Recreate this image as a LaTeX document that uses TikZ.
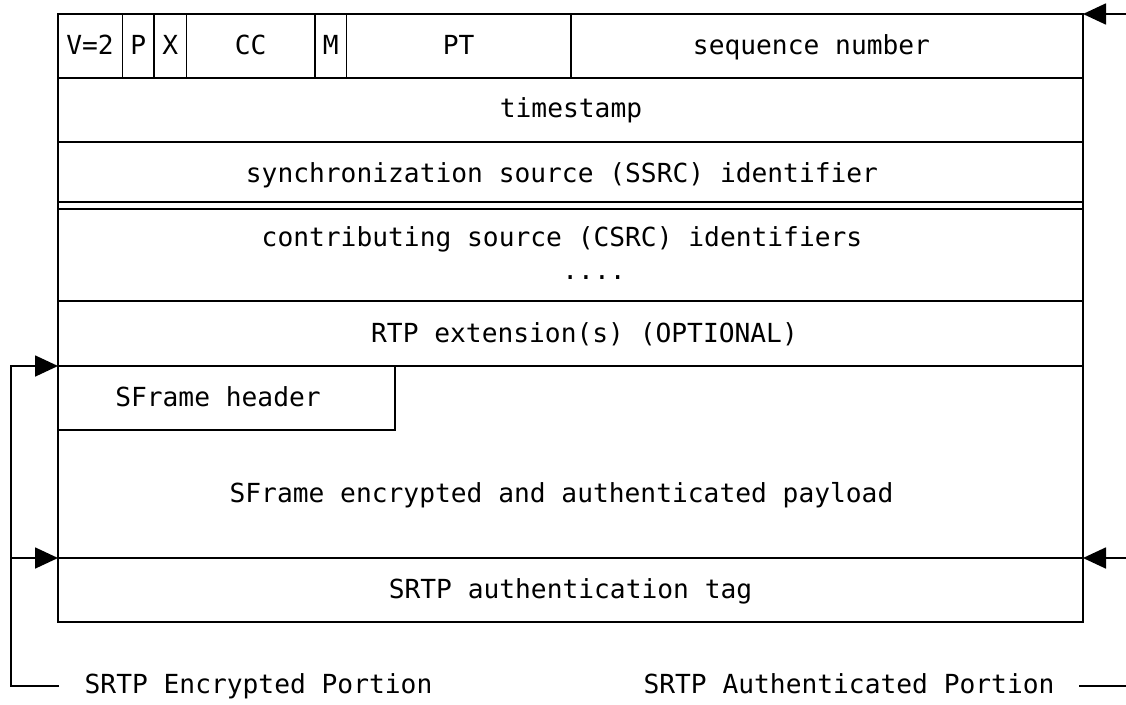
\documentclass[tikz,border=0pt]{standalone}
\usepackage{fontspec}
\setmonofont{DejaVu Sans Mono}
\usetikzlibrary{arrows.meta}
\begin{document}
\begin{tikzpicture}[x=1pt,y=-1pt,
  cell/.style={draw, line width=1.8pt, inner sep=0pt, outer sep=0pt, anchor=north west},
  txt/.style={anchor=base, inner sep=0pt, outer sep=0pt, font=\ttfamily\fontsize{26.25}{30}\selectfont},
  link/.style={line width=1.8pt},
  arr/.style={line width=1.8pt, -{Triangle[length=23pt,width=21pt]}}]
\useasboundingbox (0,0) rectangle (1126,704);
% header row
\node[cell, minimum width=64.5pt,  minimum height=63.7pt] (v)   at (58,14) {};
\node[cell, minimum width=31.5pt,  minimum height=63.7pt] (p)   at (122.5,14) {};
\node[cell, minimum width=32.5pt,  minimum height=63.7pt] (xb)  at (154,14) {};
\node[cell, minimum width=128.5pt, minimum height=63.7pt] (cc)  at (186.5,14) {};
\node[cell, minimum width=31.5pt,  minimum height=63.7pt] (m)   at (315,14) {};
\node[cell, minimum width=224.5pt, minimum height=63.7pt] (pt)  at (346.5,14) {};
\node[cell, minimum width=512pt,   minimum height=63.7pt] (seq) at (571,14) {};
% full-width rows
\node[cell, minimum width=1025pt, minimum height=64pt]   (ts)   at (58,77.7) {};
\node[cell, minimum width=1025pt, minimum height=60pt]   (ssrc) at (58,141.7) {};
\node[cell, minimum width=1025pt, minimum height=91.7pt] (csrc) at (58,209.3) {};
\node[cell, minimum width=1025pt, minimum height=65pt]   (ext)  at (58,301) {};
\node[cell, minimum width=1025pt, minimum height=192pt]  (pay)  at (58,366) {};
\node[cell, minimum width=337pt,  minimum height=64pt]   (sfh)  at (58,366) {};
\node[cell, minimum width=1025pt, minimum height=64pt]   (tag)  at (58,558) {};
% side borders across the double line
\draw[link] (ssrc.south west) -- (csrc.north west);
\draw[link] (ssrc.south east) -- (csrc.north east);
% texts
\node[txt] (tv)   at (90,54)    {V=2};
\node[txt] (tp)   at (138.2,54) {P};
\node[txt] (tx)   at (170.2,54) {X};
\node[txt] (tcc)  at (250.7,54) {CC};
\node[txt] (tm)   at (330.7,54) {M};
\node[txt] (tpt)  at (458.7,54) {PT};
\node[txt] (tseq) at (811.5,54) {sequence number};
\node[txt] (tts)  at (571,117.5)  {timestamp};
\node[txt] (tssrc) at (562,182) {synchronization source (SSRC) identifier};
\node[txt] (tcsrc) at (562,246) {contributing source (CSRC) identifiers};
\node[txt] (tdots) at (594,279) {....};
\node[txt] (text)  at (584.5,342) {RTP extension(s) (OPTIONAL)};
\node[txt] (tsfh)  at (218,406) {SFrame header};
\node[txt] (tpay)  at (561.5,502) {SFrame encrypted and authenticated payload};
\node[txt] (ttag)  at (570.5,598) {SRTP authentication tag};
\node[txt] (tenc)  at (258.5,693) {SRTP Encrypted Portion};
\node[txt] (tauth) at (849,693) {SRTP Authenticated Portion};
% encrypted-portion bracket (left)
\coordinate (eb) at (59,686);
\coordinate (ec) at (11,686);
\coordinate (et) at (11,366);
\coordinate (em) at (11,558);
\draw[arr] (eb) -- (ec) -- (et) -- (pay.north west);
\draw[arr] (em) -- (tag.north west);
% authenticated-portion bracket (right)
\coordinate (ab) at (1079,686);
\coordinate (ar) at (1129,686);
\coordinate (at) at (1129,14);
\coordinate (am) at (1129,558);
\draw[arr] (ab) -- (ar) -- (at) -- (seq.north east);
\draw[arr] (am) -- (tag.north east);
\end{tikzpicture}
\end{document}
